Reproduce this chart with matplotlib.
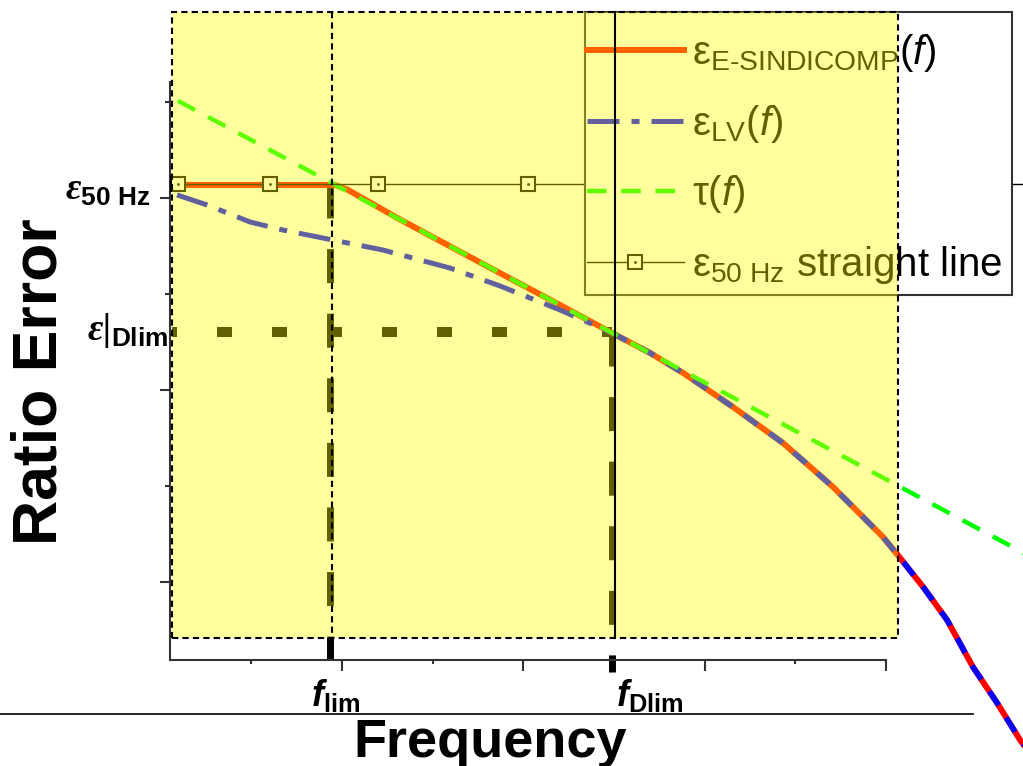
import matplotlib
matplotlib.use('Agg')
import matplotlib.pyplot as plt
from matplotlib.lines import Line2D
from matplotlib.patches import Rectangle
from matplotlib.legend_handler import HandlerTuple

plt.rcParams['font.family'] = ['Liberation Sans', 'DejaVu Sans']
plt.rcParams['mathtext.fontset'] = 'custom'
plt.rcParams['mathtext.rm'] = 'Liberation Sans'
plt.rcParams['mathtext.it'] = 'Liberation Sans:italic'
plt.rcParams['mathtext.bf'] = 'Liberation Sans:bold'
plt.rcParams['mathtext.sf'] = 'Liberation Sans:italic:bold'
plt.rcParams['mathtext.cal'] = 'Liberation Serif:italic:bold'

# ---- data (arbitrary units) ----
sindi_x = [0.095, 0.961, 1.033, 1.320, 1.871, 2.202, 2.489, 2.699, 2.881, 3.157,
           3.432, 3.708, 3.984, 4.078, 4.205, 4.337, 4.480, 4.613, 4.740, 4.822]
sindi_y = [3.068, 3.068, 3.042, 2.888, 2.609, 2.443, 2.297, 2.193, 2.089, 1.911,
           1.724, 1.495, 1.234, 1.125, 0.974, 0.802, 0.557, 0.370, 0.177, 0.073]

# LV curve before f_Dlim, after that it runs on the E-SINDICOMP curve
lv_x = [0.090, 0.255, 0.493, 0.675, 0.950, 1.226, 1.596, 1.871, 2.202, 2.489]
lv_y = [3.016, 2.964, 2.875, 2.833, 2.781, 2.729, 2.635, 2.542, 2.417, 2.297]

tau_x = [0.095, 4.822]
tau_y = [3.506, 1.120]

eps50_x = [0.095, 0.603, 1.199, 2.026, 2.98, 3.80, 4.80]
eps50 = 3.075

f_lim = 0.934
f_dlim = 2.489
eps_dlim = 2.30

labels = [r'$\mathrm{ε}_{\mathrm{E‐SINDICOMP}}(\mathit{f})$',
          r'$\mathrm{ε}_{\mathrm{LV}}(\mathit{f})$',
          r'$\mathrm{τ}(\mathit{f})$',
          r'$\mathrm{ε}_{\mathrm{50\ Hz}}$ straight line']

fig = plt.figure(figsize=(10.23, 7.66), dpi=100)
ax = fig.add_axes([170/1023, 1-660/766, (886-170)/1023, (660-82)/766])
ax.set_xlim(0.0513, 4.0)
ax.set_ylim(0.594, 3.604)

# ---- curves ----
l_sindi, = ax.plot(sindi_x, sindi_y, color='red', lw=4.3, zorder=3,
                   clip_on=False, solid_joinstyle='round')
l_lv, = ax.plot(lv_x, lv_y, color='blue', lw=3.6, zorder=3.5, clip_on=False,
                ls=(0, (6.4, 2.4, 1.6, 2.4)))
i0 = sindi_x.index(f_dlim)
ax.plot(sindi_x[i0:], sindi_y[i0:], color='blue', lw=4.0, zorder=3.5,
        clip_on=False, ls=(0, (3, 2.6)))
l_tau, = ax.plot(tau_x, tau_y, color='#00ff00', lw=3.2, zorder=4,
                 clip_on=False, ls=(0, (4.4, 3.3)))
l_e50, = ax.plot(eps50_x, [eps50]*len(eps50_x), color='black', lw=1.0,
                 marker='s', ms=10, mfc='white', mec='black', mew=1.5,
                 markevery=list(range(len(eps50_x)-1)), zorder=4.5, clip_on=False)
l_dot, = ax.plot(eps50_x[:-1], [eps50]*(len(eps50_x)-1), ls='none', marker='.',
                 ms=2, color='black', zorder=4.6, clip_on=False)

# ---- thick guide lines ----
ax.plot([0.0623, f_dlim], [eps_dlim, eps_dlim], color='black', lw=7.2,
        ls=(1.0, (1.5, 4.0)), zorder=2, clip_on=False)
ax.plot([f_lim, f_lim], [eps50, 0.594], color='black', lw=5,
        ls=(0, (4.9, 4.4)), zorder=2, clip_on=False)
ax.plot([f_dlim, f_dlim], [eps_dlim, 0.531], color='black', lw=5,
        ls=(0, (4.9, 4.4)), zorder=2, clip_on=False)

# ---- yellow overlay and thin lines on top ----
ax.add_patch(Rectangle((0.0623, 0.708), 4.067-0.0623, 3.969-0.708,
                       fc=(1, 1, 0, 0.38), ec='black', lw=1.5,
                       ls=(0, (3, 2)), zorder=10, clip_on=False))
ax.plot([0.945, 0.945], [3.969, 0.708], color='black', lw=1.5,
        ls=(0, (3, 2)), zorder=11, clip_on=False)
ax.plot([2.506, 2.506], [3.969, 0.708], color='black', lw=1.5,
        zorder=11, clip_on=False)

# ---- axes styling ----
for s in ['top', 'right']:
    ax.spines[s].set_visible(False)
for s in ['left', 'bottom']:
    ax.spines[s].set_linewidth(1.5)
    ax.spines[s].set_color('#333333')
ax.patch.set_visible(False)
ax.set_xticks([1, 2, 3, 4])
ax.set_xticks([0.5, 1.5, 2.5, 3.5], minor=True)
ax.set_yticks([1, 2, 3])
ax.set_yticks([1.5, 2.5, 3.5], minor=True)
ax.tick_params(which='both', direction='out', width=1.5, color='#333333',
               labelbottom=False, labelleft=False)
ax.tick_params(axis='x', which='major', length=8)
ax.tick_params(axis='x', which='minor', length=3)
ax.tick_params(axis='y', which='major', length=7.2)
ax.tick_params(axis='y', which='minor', length=3.6)

# ---- custom tick texts ----
ax.annotate(r'$\mathcal{ε}_{\mathbf{50\ Hz}}$', xy=(0, 3.04),
            xycoords=('axes fraction', 'data'), xytext=(-14, 0),
            textcoords='offset points', ha='right', va='center', fontsize=27)
ax.annotate(r'$\mathcal{ε|}_{\mathbf{Dlim}}$', xy=(0, 2.31),
            xycoords=('axes fraction', 'data'), xytext=(-1, 0),
            textcoords='offset points', ha='right', va='center', fontsize=27)
ax.annotate(r'$\mathsf{f}_{\mathbf{lim}}$', xy=(f_lim, 0),
            xycoords=('data', 'axes fraction'), xytext=(-14, -12),
            textcoords='offset points', ha='left', va='top', fontsize=26)
ax.annotate(r'$\mathsf{f}_{\mathbf{Dlim}}$', xy=(f_dlim, 0),
            xycoords=('data', 'axes fraction'), xytext=(3, -12),
            textcoords='offset points', ha='left', va='top', fontsize=26)

fig.text(40/1023, 1-382/766, 'Ratio Error', rotation=90, ha='center',
         va='center', fontsize=45, fontweight='bold')
fig.text(490/1023, 1-757/766, 'Frequency', ha='center', va='baseline',
         fontsize=39, fontweight='bold')
fig.add_artist(Line2D([0, 973/1023], [1-714/766, 1-714/766], color='black',
                      lw=1.2, transform=fig.transFigure))

# ---- legend (frame drawn separately so its padding can be uneven) ----
ax.add_patch(Rectangle((585/1023, 1-295/766), 427/1023, 283/766,
                       transform=fig.transFigure, fc='white', ec='#333333',
                       lw=1.5, zorder=4.9, clip_on=False))
leg = ax.legend([l_sindi, l_lv, l_tau, (l_e50, l_dot)], labels,
                loc='upper left', bbox_to_anchor=(585/1023, 1-30/766),
                bbox_transform=fig.transFigure, fontsize=29, frameon=False,
                borderpad=0.05, handlelength=2.4, handletextpad=0.2,
                labelspacing=0.71, borderaxespad=0, numpoints=1,
                handler_map={tuple: HandlerTuple(ndivide=1)})
leg.set_zorder(5)

fig.savefig('out.png', dpi=100)
